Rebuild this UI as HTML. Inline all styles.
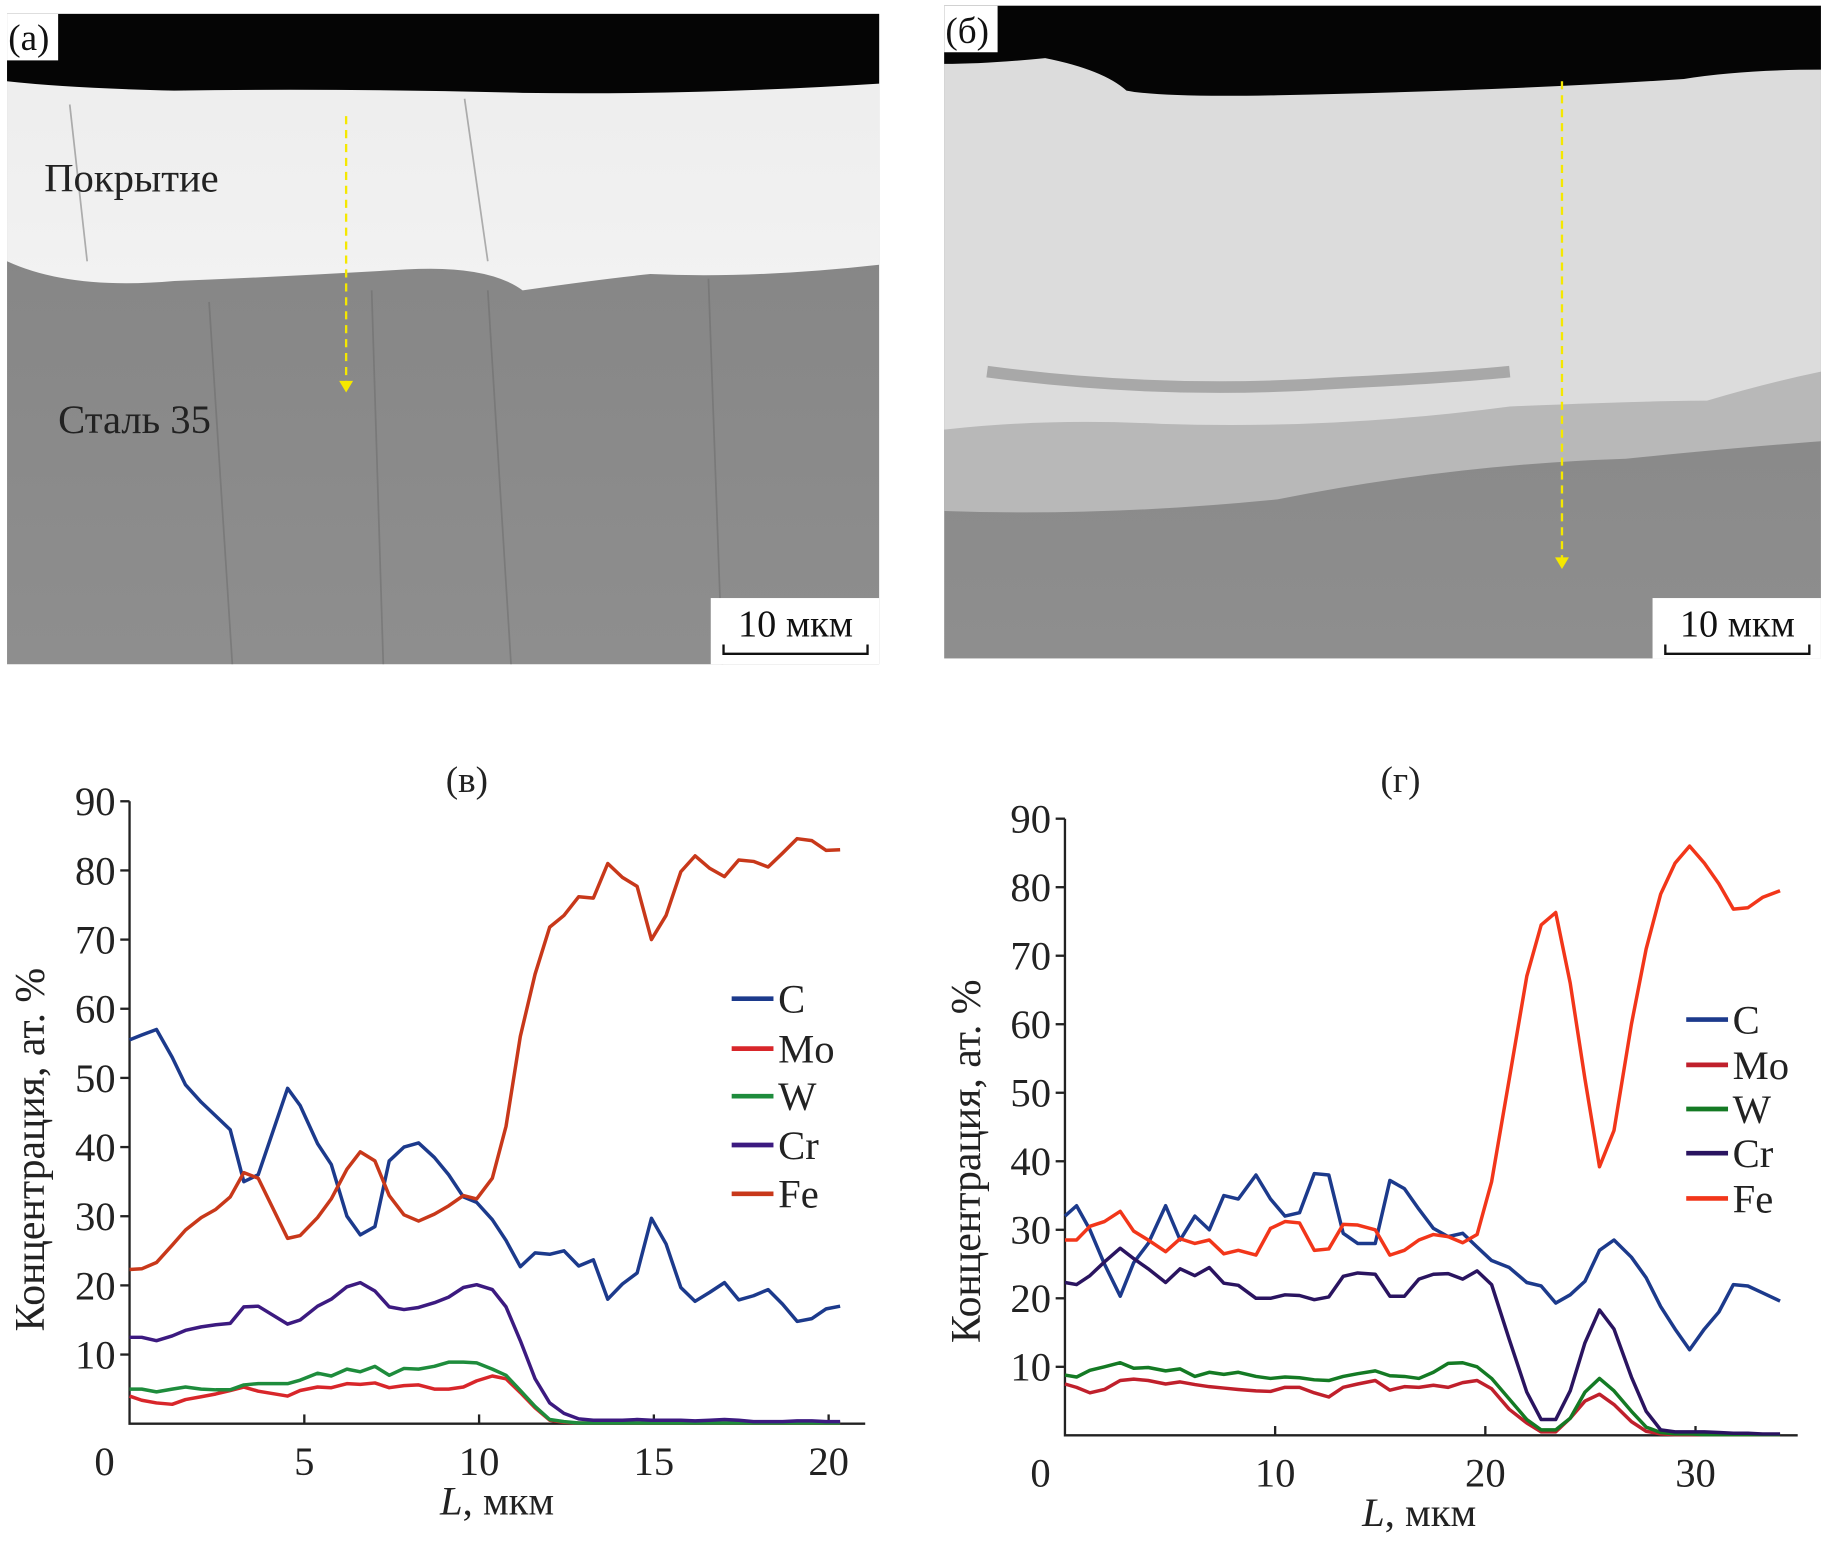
<!DOCTYPE html>
<html><head><meta charset="utf-8">
<style>
html,body{margin:0;padding:0;background:#fff;}
svg{display:block;font-family:"Liberation Serif",serif;}
</style></head>
<body>
<svg id="fig" width="1821" height="1541" viewBox="0 0 1568 1327">
<defs>
<linearGradient id="coatA" x1="0" y1="0" x2="0" y2="1"><stop offset="0" stop-color="#ececec"/><stop offset="1" stop-color="#f2f2f2"/></linearGradient>
<linearGradient id="steel" x1="0" y1="0" x2="0" y2="1"><stop offset="0" stop-color="#828282"/><stop offset="1" stop-color="#8e8e8e"/></linearGradient>
</defs>
<!-- Panel a -->
<g>
<rect x="6" y="12" width="751" height="560" fill="url(#steel)"/>
<path d="M6,225 Q60,250 150,242 Q250,238 350,232 Q420,228 450,250 Q520,240 560,236 Q650,240 757,228 L757,12 L6,12 Z" fill="url(#coatA)"/>
<path d="M6,12 L757,12 L757,72 Q600,82 450,80 Q300,76 150,78 Q60,76 6,70 Z" fill="#050505"/>
<g stroke="#6a6a6a" stroke-width="1.5" opacity="0.5"><line x1="180" y1="260" x2="200" y2="572"/><line x1="320" y1="250" x2="330" y2="572"/><line x1="420" y1="250" x2="440" y2="572"/><line x1="610" y1="240" x2="622" y2="572"/><line x1="60" y1="90" x2="75" y2="225"/><line x1="400" y1="85" x2="420" y2="225"/></g>
<rect x="612" y="515" width="145" height="57" fill="#fff"/>
<text x="685" y="548" font-size="33" text-anchor="middle" fill="#111">10 мкм</text>
<path d="M623,555 V563 H747 V555" fill="none" stroke="#111" stroke-width="2"/>
<rect x="6" y="12" width="44" height="40" fill="#fff"/>
<text x="7" y="43" font-size="32" fill="#111">(а)</text>
<text x="38" y="165" font-size="35" fill="#222">Покрытие</text>
<text x="50" y="373" font-size="35" fill="#222">Сталь 35</text>
<line x1="298" y1="100" x2="298" y2="330" stroke="#f5e800" stroke-width="2" stroke-dasharray="7,5"/>
<path d="M292,328 L298,338 L304,328 Z" fill="#f5e800"/>
</g>
<!-- Panel b -->
<g>
<rect x="813" y="5" width="755" height="562" fill="url(#steel)"/>
<path d="M813,440 Q950,445 1100,430 Q1250,400 1400,395 Q1500,385 1568,380 L1568,5 L813,5 Z" fill="#b8b8b8"/>
<path d="M813,370 Q900,360 1000,365 Q1150,370 1300,350 Q1420,345 1470,345 Q1520,330 1568,320 L1568,5 L813,5 Z" fill="#dcdcdc"/>
<path d="M850,320 Q1000,340 1150,330 Q1250,325 1300,320" fill="none" stroke="#a8a8a8" stroke-width="10"/>
<path d="M813,5 L1568,5 L1568,60 Q1500,60 1450,68 Q1300,78 1100,82 Q1000,84 970,78 Q950,60 900,50 Q850,55 813,55 Z" fill="#050505"/>
<rect x="1423" y="515" width="145" height="52" fill="#fff"/>
<text x="1496" y="548" font-size="33" text-anchor="middle" fill="#111">10 мкм</text>
<path d="M1434,555 V563 H1558 V555" fill="none" stroke="#111" stroke-width="2"/>
<rect x="813" y="5" width="46" height="40" fill="#fff"/>
<text x="814" y="37" font-size="32" fill="#111">(б)</text>
<line x1="1345" y1="70" x2="1345" y2="482" stroke="#f5e800" stroke-width="2" stroke-dasharray="7,5"/>
<path d="M1339,480 L1345,490 L1351,480 Z" fill="#f5e800"/>
</g>
<g id="chartV"></g>
<g id="chartG"></g>
</svg>
<script>
// Chart (в)
const L1 = [0,0.35,0.77,1.22,1.6,2.05,2.47,2.88,3.27,3.68,4.52,4.88,5.38,5.77,6.22,6.6,7.02,7.43,7.85,8.27,8.72,9.13,9.55,9.93,10.38,10.77,11.18,11.6,12.02,12.43,12.85,13.27,13.68,14.1,14.52,14.93,15.35,15.77,16.18,16.6,17.02,17.43,17.85,18.27,18.68,19.1,19.52,19.93,20.33];
const C1 = [55.5,56.2,57,53,49,46.5,44.5,42.5,35,36,48.5,46,40.5,37.5,30,27.3,28.5,38,40,40.6,38.5,36,32.8,32,29.5,26.5,22.7,24.7,24.5,25,22.8,23.7,18,20.2,21.8,29.7,26,19.7,17.7,19,20.4,17.9,18.5,19.4,17.3,14.8,15.2,16.6,17];
const Fe1 = [22.3,22.4,23.3,25.8,28,29.8,31,32.8,36.3,35.5,26.8,27.2,29.8,32.5,36.8,39.3,38,33,30.2,29.3,30.3,31.5,33,32.5,35.5,43,56,65,71.8,73.5,76.2,76,81,79,77.7,70,73.5,79.8,82.1,80.3,79.1,81.5,81.3,80.5,82.5,84.6,84.3,82.9,83];
const Cr1 = [12.5,12.5,12,12.7,13.5,14,14.3,14.5,16.9,17,14.4,15,17,18,19.8,20.4,19.2,16.9,16.5,16.8,17.5,18.3,19.7,20.1,19.4,16.9,12,6.5,3,1.5,0.7,0.5,0.5,0.5,0.6,0.5,0.5,0.5,0.4,0.5,0.6,0.5,0.3,0.3,0.3,0.4,0.4,0.3,0.3];
const W1 = [5,5,4.6,5,5.3,5,4.9,4.9,5.6,5.8,5.8,6.3,7.3,6.9,7.9,7.5,8.3,7,8,7.9,8.3,8.9,8.9,8.8,7.9,7,4.8,2.5,0.6,0.3,0.1,0.1,0.1,0.1,0.1,0.1,0.1,0.1,0.1,0.1,0.1,0.1,0.1,0.1,0.1,0.1,0.1,0.1,0.1];
const Mo1 = [4,3.4,3,2.8,3.5,3.9,4.3,4.8,5.3,4.7,4,4.8,5.3,5.2,5.8,5.7,5.9,5.2,5.5,5.6,5,5,5.3,6.2,6.9,6.5,4.5,2.3,0.5,0.2,0.1,0.1,0.1,0.1,0.1,0.1,0.1,0.1,0.1,0.1,0.1,0.1,0.1,0.1,0.1,0.1,0.1,0.1,0.1];
const xTicks1 = [5,10,15,20];
// Chart (г)
const L2 = [0,0.55,1.19,1.88,2.63,3.27,3.96,4.79,5.48,6.18,6.87,7.56,8.25,9.09,9.78,10.47,11.16,11.86,12.55,13.24,13.93,14.76,15.46,16.15,16.84,17.53,18.23,18.92,19.61,20.3,21.14,21.97,22.66,23.35,24.04,24.74,25.43,26.12,26.95,27.65,28.34,29.03,29.72,30.42,31.11,31.8,32.49,33.19,34.02];
const C2 = [32,33.5,30,25,20.3,25.2,28,33.5,28.5,32,30,35,34.5,38,34.5,32,32.5,38.2,38,29.5,28,28,37.2,36,33,30.2,29,29.5,27.5,25.5,24.5,22.3,21.8,19.3,20.5,22.5,27,28.5,26,23,18.8,15.5,12.5,15.5,18,22,21.8,20.8,19.6];
const Fe2 = [28.5,28.5,30.5,31.2,32.7,29.8,28.5,26.8,28.7,28,28.5,26.5,27,26.3,30.2,31.2,31,27,27.2,30.8,30.7,30,26.3,27,28.5,29.3,29,28.1,29.3,37,52,67,74.5,76.3,66,52,39.2,44.5,60,71,79,83.5,86,83.5,80.5,76.8,77,78.5,79.5];
const Cr2 = [22.3,22,23.3,25.3,27.3,25.8,24.3,22.3,24.3,23.3,24.5,22.2,21.9,20,20,20.5,20.4,19.8,20.2,23.2,23.7,23.5,20.3,20.3,22.8,23.5,23.6,22.8,24,22,14,6.3,2.3,2.3,6.5,13.5,18.3,15.5,8.5,3.5,0.8,0.5,0.5,0.5,0.4,0.3,0.3,0.2,0.2];
const W2 = [8.8,8.5,9.5,10,10.6,9.8,9.9,9.4,9.7,8.6,9.2,8.9,9.2,8.6,8.3,8.5,8.4,8.1,8,8.6,9,9.4,8.7,8.6,8.3,9.2,10.5,10.6,10,8.3,5.3,2.3,0.8,0.8,2.5,6.3,8.3,6.5,3.5,1.2,0.4,0.2,0.2,0.1,0.1,0.1,0.1,0.1,0.1];
const Mo2 = [7.5,7,6.2,6.7,8,8.2,8,7.5,7.8,7.4,7.1,6.9,6.7,6.5,6.4,7,7,6.2,5.6,7,7.5,8,6.6,7.1,7,7.3,7,7.7,8,6.8,3.8,1.8,0.5,0.5,2.5,5,6,4.5,2,0.6,0.2,0.1,0.1,0.1,0.1,0.1,0.1,0.1,0.1];
const xTicks2 = [10,20,30];
const yTicks = [10,20,30,40,50,60,70,80,90];
const legendNames = ["C","Mo","W","Cr","Fe"];

const NS = "http://www.w3.org/2000/svg";
function mk(parent, tag, attrs, text){
  const e = document.createElementNS(NS, tag);
  for (const k in attrs) e.setAttribute(k, attrs[k]);
  if (text !== undefined) e.textContent = text;
  parent.appendChild(e); return e;
}
function drawChart(g, cfg){
  const sx = v => cfg.x0 + v * cfg.kx;
  const sy = v => cfg.y0 - v * cfg.ky;
  const ax = mk(g, "path", {d:`M${cfg.x0},${sy(90)} V${cfg.y0} H${cfg.xEnd}`, fill:"none", stroke:"#222", "stroke-width":2});
  
  
  yTicks.forEach(t => {
    mk(g, "line", {x1:cfg.x0-8, x2:cfg.x0, y1:sy(t), y2:sy(t), stroke:"#222", "stroke-width":2});
    const tl = mk(g, "text", {x:cfg.x0-12, y:sy(t)+12, "font-size":35, "text-anchor":"end", fill:"#222"}, String(t));
    
    
  });
  cfg.xTicks.forEach(t => {
    mk(g, "line", {x1:sx(t), x2:sx(t), y1:cfg.y0, y2:cfg.y0-8, stroke:"#222", "stroke-width":2});
    const tl = mk(g, "text", {x:sx(t), y:cfg.y0+44, "font-size":35, "text-anchor":"middle", fill:"#222"}, String(t));
    
    
  });
  const z = mk(g, "text", {x:cfg.zeroX, y:cfg.y0+44, "font-size":35, "text-anchor":"middle", fill:"#222"}, "0");
  
  
  cfg.series.forEach((s, i) => {
    const d = cfg.L.map((v, j) => (j ? "L" : "M") + sx(v).toFixed(1) + "," + sy(s.vals[j]).toFixed(1)).join(" ");
    const p = mk(g, "path", {d:d, fill:"none", stroke:s.color, "stroke-width":3, "stroke-linejoin":"round"});
    
    
    const ly = cfg.legY[i];
    const ll = mk(g, "line", {x1:cfg.legX, x2:cfg.legX+36, y1:ly, y2:ly, stroke:s.color, "stroke-width":4});
    
    
    const lt = mk(g, "text", {x:cfg.legX+40, y:ly+12, "font-size":35, fill:"#222"}, legendNames[i]);
    
    
  });
  const t = mk(g, "text", {x:cfg.titleX, y:cfg.titleY, "font-size":32, "text-anchor":"middle", fill:"#222"}, cfg.title);
  
  
  const xt = mk(g, "text", {x:cfg.xtX, y:cfg.y0+78, "font-size":35, "text-anchor":"middle", fill:"#222"});
  
  
  mk(xt, "tspan", {"font-style":"italic"}, "L");
  mk(xt, "tspan", {}, ", мкм");
  const yt = mk(g, "text", {x:0, y:0, "font-size":36, "text-anchor":"middle", fill:"#222",
    transform:`translate(${cfg.ytX},${cfg.ytY}) rotate(-90)`}, "Концентрация, ат. %");
  
  
}
drawChart(document.getElementById("chartV"), {
  x0:111.5, kx:30.1, y0:1226, ky:536/90, xEnd:745, xTicks:xTicks1, zeroX:90, L:L1,
  series:[{vals:C1,color:"#1c3a8c"},{vals:Mo1,color:"#d8262a"},{vals:W1,color:"#1e8c3c"},{vals:Cr1,color:"#3c1a80"},{vals:Fe1,color:"#c8381a"}],
  legX:630, legY:[860,903,944,986,1028], title:"(в)", titleX:402, titleY:682, xtX:428, ytX:38, ytY:990
});
drawChart(document.getElementById("chartG"), {
  x0:917, kx:18.1, y0:1236, ky:531/90, xEnd:1548, xTicks:xTicks2, zeroX:896, L:L2,
  series:[{vals:C2,color:"#1c3a8c"},{vals:Mo2,color:"#c0202c"},{vals:W2,color:"#147a24"},{vals:Cr2,color:"#2a1460"},{vals:Fe2,color:"#f2361a"}],
  legX:1452, legY:[878,917,955,993,1032], title:"(г)", titleX:1206, titleY:682, xtX:1222, ytX:844, ytY:1000
});
</script>
</body></html>
